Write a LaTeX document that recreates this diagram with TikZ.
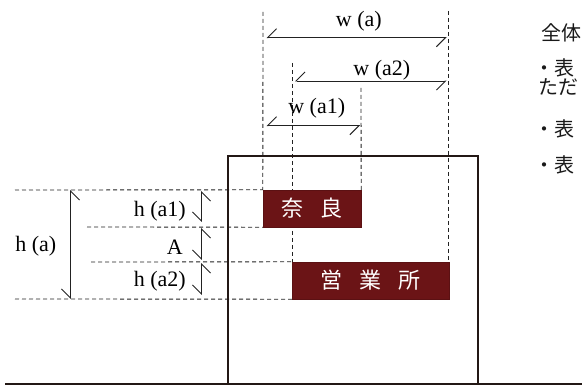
\documentclass[tikz,border=0pt]{standalone}
\usepackage{fontspec}
\setmainfont{Liberation Serif}
\newfontfamily\jpfont{Noto Sans CJK JP}
\usetikzlibrary{arrows.meta}
\definecolor{wallc}{HTML}{231815}
\definecolor{boxc}{RGB}{107,20,22}
\definecolor{linec}{HTML}{222222}
\tikzset{
  barb/.tip={Straight Barb[harpoon,swap,length=9pt,width=18pt,line width=0.9pt]},
  dashln/.style={draw=linec, line width=0.85pt, dash pattern=on 4pt off 3pt},
  dimln/.style={draw=linec, line width=0.9pt, barb-barb},
  wall/.style={draw=wallc, line width=1.9pt},
  sign/.style={fill=boxc, draw=boxc!85!black, line width=0.4pt, inner sep=0pt, minimum height=37pt,
    text=white, font=\jpfont\fontsize{22}{24}\selectfont},
  lbl/.style={font=\fontsize{22}{24}\selectfont, inner sep=0pt, text=black},
  jp/.style={font=\jpfont\fontsize{20}{22}\selectfont, anchor=west, inner sep=0pt, text=black!90}
}
\begin{document}
\begin{tikzpicture}[x=1pt,y=-1pt]
\useasboundingbox (0,0) rectangle (582,385);
\clip (0,0) rectangle (582,385);
% sign boxes (positions)
\path (312,208.5) node[sign, minimum width=98pt] (nara) {};
\path (370.5,280.5) node[sign, minimum width=157pt] (eigyo) {};
% coordinates for dashed guide lines
\coordinate (vA) at (263,12);
\coordinate (vB) at (292,63);
\coordinate (vC) at (361,88);
\coordinate (vD) at (448.5,11);
\coordinate (hA) at (15,190);
\coordinate (hB) at (87,227);
\coordinate (hC) at (91,262);
\coordinate (hD) at (15,299);
% dashed guides
\draw[dashln] (vA) -- (nara.north west);
\draw[dashln] (vB) -- (vB |- eigyo.north);
\draw[dashln] (vC) -- (nara.north east);
\draw[dashln] (vD) -- (vD |- eigyo.north);
\draw[dashln] (hA) -- (nara.north west);
\draw[dashln] (hB) -- (nara.south west);
\draw[dashln] (hC) -- (eigyo.north west);
\draw[dashln] (hD) -- (eigyo.south west);
% building and ground
\draw[wall] (228,384) -- (228,156) -- (478,156) -- (478,384);
\coordinate (g1) at (5,383.5);
\coordinate (g2) at (582,383.5);
\draw[wall, line width=2pt] (g1) -- (g2);
% sign boxes on top
\node[sign, minimum width=98pt] at (nara) {奈\hspace{17.5pt}良};
\node[sign, minimum width=157pt] at (eigyo) {営\hspace{17.5pt}業\hspace{17.5pt}所};
% dimension lines
\coordinate (wa1) at (266.5,37.7);  \coordinate (wa2) at (446.5,37.7);
\coordinate (wb1) at (295,81);      \coordinate (wb2) at (446.5,81);
\coordinate (wc1) at (266.5,125.7); \coordinate (wc2) at (360,125.7);
\coordinate (ha1) at (70.5,190);    \coordinate (ha2) at (70.5,299);
\coordinate (hb1) at (201.5,191);   \coordinate (hb2) at (201.5,222);
\coordinate (hx1) at (201.5,228);   \coordinate (hx2) at (201.5,260);
\coordinate (hc1) at (201.5,263);   \coordinate (hc2) at (201.5,295);
\draw[dimln] (wa1) -- (wa2);
\draw[dimln] (wb1) -- (wb2);
\draw[dimln] (wc1) -- (wc2);
\draw[dimln] (ha1) -- (ha2);
\draw[dimln] (hb1) -- (hb2);
\draw[dimln] (hx1) -- (hx2);
\draw[dimln] (hc1) -- (hc2);
% labels
\node[lbl] (lwa) at (358.8,21.7) {w (a)};
\node[lbl] (lwb) at (381.8,70) {w (a2)};
\node[lbl] (lwc) at (316.7,108) {w (a1)};
\node[lbl] (lha) at (35.8,246) {h (a)};
\node[lbl, anchor=east] (lhb) at (186,211) {h (a1)};
\node[lbl, anchor=east] (lhx) at (183,247) {A};
\node[lbl, anchor=east] (lhc) at (186,281.5) {h (a2)};
% right column text (cut at edge)
\node[jp] (t1) at (541,33) {全体};
\node[jp] (t2) at (534,68) {・表};
\node[jp] (t3) at (538,87) {ただ};
\node[jp] (t4) at (534,129) {・表};
\node[jp] (t5) at (534,165) {・表};
\end{tikzpicture}
\end{document}
